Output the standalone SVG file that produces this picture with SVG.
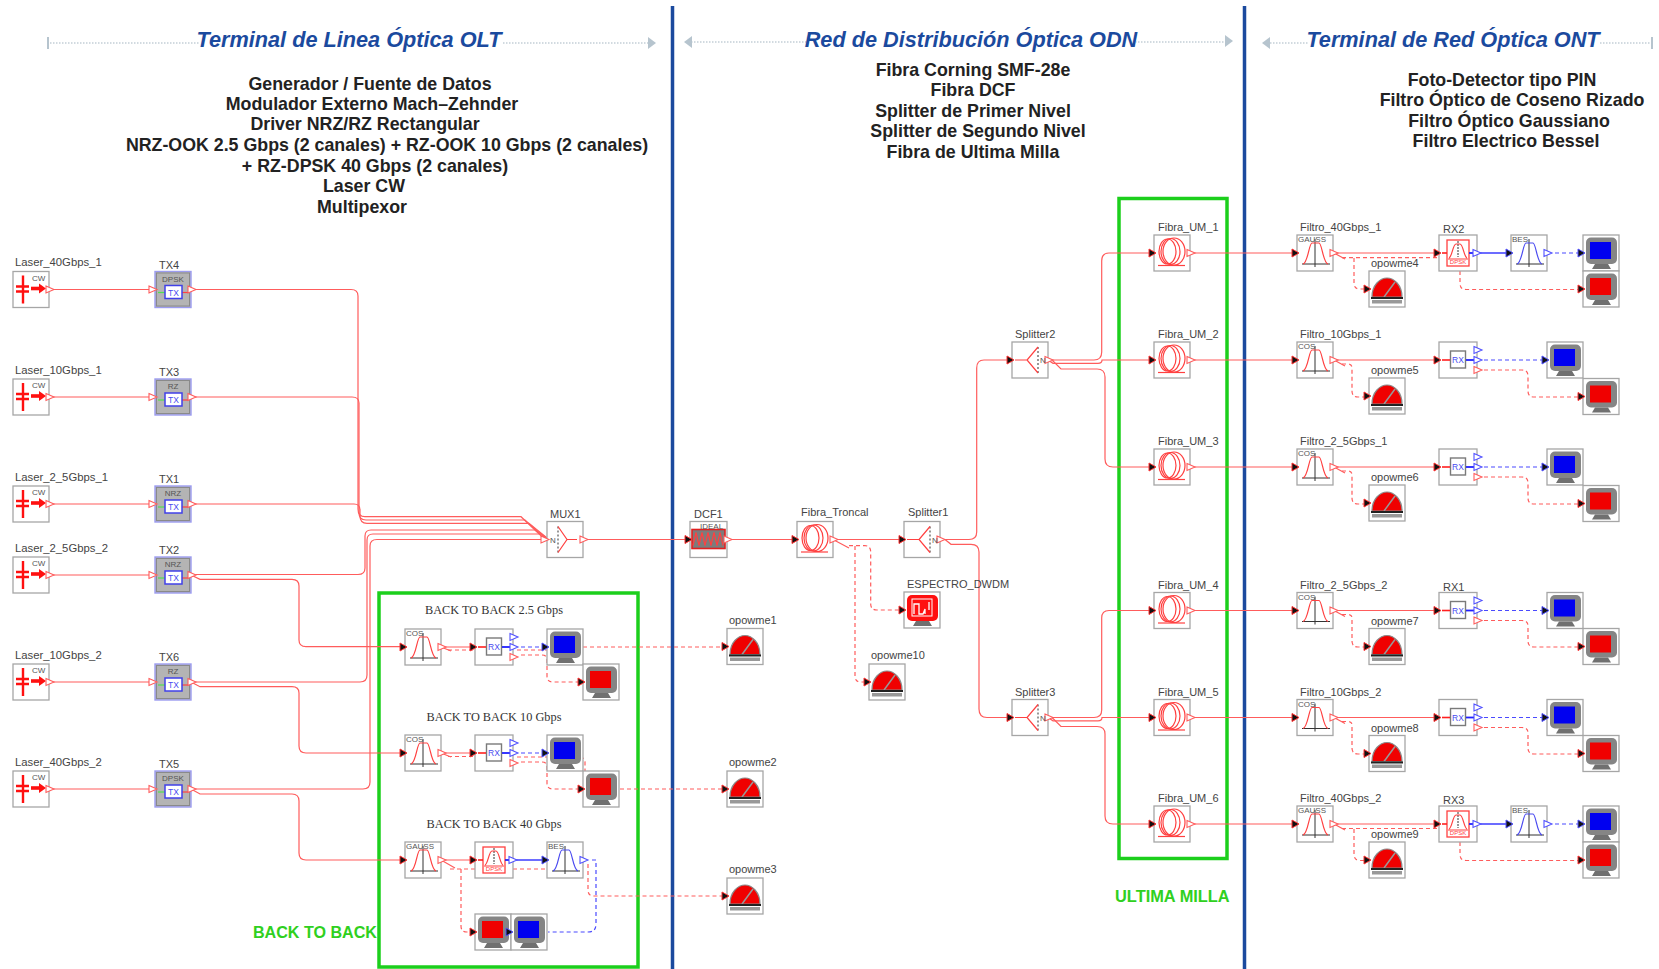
<svg xmlns="http://www.w3.org/2000/svg" width="1659" height="969" viewBox="0 0 1659 969">
<style>
text{font-family:"Liberation Sans",Arial,sans-serif}
.l{font-size:11px;fill:#444}
g[id^=laser] .l{font-size:11.3px}
.s{font-size:8px;fill:#555}
.tb{font-size:8.5px;fill:#4a4af0;text-anchor:middle}
.rs{font-size:6px;fill:#ff4040;text-anchor:middle}
.h{font-size:21.7px;font-weight:bold;font-style:italic;fill:#1b4a9e;text-anchor:middle}
.p{font-size:17.8px;font-weight:bold;fill:#222;text-anchor:middle}
.g{font-weight:bold;fill:#2fd020}
.bb{font-family:"Liberation Serif",serif;font-size:12.3px;fill:#333;text-anchor:middle}
.w,.d,.b,.bd{fill:none;stroke-width:1.2}
.w{stroke:#ff5c5c}
.d{stroke:#ff5c5c;stroke-dasharray:4 3}
.b{stroke:#3c3cff;stroke-width:1.4}
.bd{stroke:#4a4aff;stroke-dasharray:4 3}
.box{fill:#fff;stroke:#a6a6a6;stroke-width:1.3}
.ic{fill:none;stroke:#ff4040;stroke-width:1.2}
.ib{fill:none;stroke:#4a4af0;stroke-width:1.2}
.ax{fill:none;stroke:#333;stroke-width:1}
.sep{fill:none;stroke:#1b4a9e;stroke-width:3.5}
.gb{fill:none;stroke:#1ccf1c;stroke-width:3.5}
.hd{fill:none;stroke:#c3ced6;stroke-width:1.6;stroke-dasharray:1.5 1.5}
.ha{fill:#b6c4ce}
</style>
<defs>
<path id="po" d="M0,-3.5 L8,0 L0,3.5z" fill="#fff" stroke="#ff5c5c" stroke-width="1.1"/>
<path id="pb" d="M0,-3.5 L8,0 L0,3.5z" fill="#fff" stroke="#5050ff" stroke-width="1.1"/>
<path id="pi" d="M-5,-4 L2,0 L-5,4z" fill="#111" stroke="#ff3030" stroke-width="1"/>
<path id="pk" d="M-5,-4 L2,0 L-5,4z" fill="#111" stroke="#5050ff" stroke-width="1"/>
<path id="ph" d="M-8,-3.5 L0,0 L-8,3.5z" fill="#fff" stroke="#ff5c5c" stroke-width="1.1"/>
<g id="laser"><rect class="box" width="36" height="36"/><path d="M10,4V32M3,15H16M3,20H16" stroke="#ff1010" stroke-width="2.4" fill="none"/><path d="M18,17H27" stroke="#ff1010" stroke-width="3.6"/><path d="M26,12L33,17L26,22z" fill="#ff1010"/><use href="#po" x="33" y="18"/></g>
<g id="tx"><rect x="0" y="0" width="36" height="36" fill="#b4b4b4" stroke="#9c9cf0" stroke-width="1.4"/><rect x="1.500" y="1.500" width="33" height="33" fill="none" stroke="#8a8a8a"/><path d="M3,21H10" stroke="#50e050" stroke-width="1.2"/><path d="M27,21H34" stroke="#ff4040" stroke-width="1.2"/><rect x="10" y="14" width="17" height="13" fill="#fff" stroke="#4040e8" stroke-width="1.5"/><use href="#po" x="33" y="18"/><use href="#ph" x="2" y="18"/></g>
<g id="mux"><rect class="box" width="36" height="36"/><path class="ax" d="M11,5V31" stroke-dasharray="2 2" stroke="#777"/><path class="ic" stroke-width="1.4" d="M11,5L20,18L11,31M20,18H30"/><use href="#ph" x="2" y="18"/><use href="#po" x="33" y="18"/></g>
<g id="spl"><rect class="box" width="36" height="36"/><path class="ax" d="M26,5V31" stroke-dasharray="2 2" stroke="#777"/><path class="ic" stroke-width="1.4" d="M26,5L15,18L26,31M15,18H3"/><use href="#pi" x="0" y="18"/><use href="#po" x="33" y="18"/></g>
<g id="fib"><rect class="box" width="36" height="36"/><ellipse class="ic" cx="13.500" cy="16.500" rx="8.500" ry="12.500"/><ellipse class="ic" cx="16.500" cy="16.500" rx="9.500" ry="13"/><ellipse class="ic" cx="20" cy="16.500" rx="11" ry="13.500"/><path class="ic" d="M4,30.500H31"/><use href="#pi" x="0" y="18"/><use href="#po" x="33" y="18"/></g>
<g id="dcf"><rect class="box" width="37" height="36"/><rect x="2" y="8" width="33" height="19" fill="#7c7c7c" stroke="#e02020" stroke-width="1.6"/><path class="ic" stroke-width="1.4" d="M3,24L6,11L9,24L12,11L15,24L18,11L21,24L24,11L27,24L30,11L33,24"/><use href="#pi" x="0" y="18"/><use href="#po" x="34" y="18"/></g>
<g id="flt"><rect class="box" width="36" height="36"/><path class="ax" d="M18,4V32M5,29H33"/><path class="ic" d="M6,29C11,28 12,8 15,8H22C25,8 26,28 31,29"/><use href="#pi" x="0" y="18"/><use href="#po" x="33" y="18"/></g>
<g id="bes"><rect class="box" width="36" height="36"/><path class="ax" d="M18,4V32M5,29H33"/><path class="ib" d="M6,29C11,28 12,8 15,8H22C25,8 26,28 31,29"/><use href="#pk" x="0" y="18"/><use href="#pb" x="33" y="18"/></g>
<g id="rx"><rect class="box" width="38" height="36"/><rect x="11.500" y="9" width="15" height="17" fill="#fff" stroke="#7a7a7a" stroke-width="1.4"/><path d="M3,18H11" stroke="#ff2020" stroke-width="1.6"/><path d="M27,18H36" stroke="#2020ff" stroke-width="1.8"/><use href="#pi" x="0" y="18"/><use href="#pb" x="35" y="8"/><use href="#pb" x="35" y="18"/><use href="#po" x="35" y="28"/></g>
<g id="rd"><rect class="box" width="38" height="36"/><rect x="8" y="5" width="22" height="26" fill="#fff" stroke="#ff4040" stroke-width="1.3"/><path class="ax" d="M19,6V22" stroke-dasharray="2 1"/><path class="ic" d="M10,23C13,22 14,9 17,9H21C24,9 25,22 28,23M9,24H29"/><path d="M3,18H8" stroke="#ff2020" stroke-width="1.6"/><path d="M30,18H36" stroke="#2020ff" stroke-width="1.8"/><use href="#pi" x="0" y="18"/><use href="#pb" x="34" y="18"/></g>
<g id="scr"><rect x="3" y="2.500" width="31" height="26.500" rx="5" fill="#858585"/><path d="M12,29H25L28,34H9z" fill="#707070"/></g>
<g id="mb"><rect class="box" width="36" height="36"/><use href="#scr"/><rect x="7" y="7" width="21" height="17" fill="#0000f0"/><use href="#pk" x="0" y="18"/></g>
<g id="mr"><rect class="box" width="36" height="36"/><use href="#scr"/><rect x="7" y="7" width="21" height="17" fill="#f00000"/><use href="#pi" x="0" y="18"/></g>
<g id="mt"><rect class="box" width="36" height="36"/><path d="M3,26C3,14 11,7 18,7C25,7 33,14 33,26z" fill="#f00000" stroke="#8a8a8a" stroke-width="1.2"/><path d="M15,26L26,11" stroke="#999" stroke-width="1.5"/><rect x="2" y="26" width="32" height="2" fill="#222"/><rect x="3" y="29" width="30" height="3.500" fill="#999"/><use href="#pi" x="0" y="18"/></g>
<g id="esp"><rect class="box" width="36" height="36"/><path d="M12,29H25L28,34H9z" fill="#707070"/><rect x="3" y="3" width="31" height="26" rx="5" fill="#ff1010"/><rect x="8" y="7" width="20" height="17" fill="none" stroke="#fff"/><path d="M10,22V12H15V22H19L21,17V22M25,10V18" fill="none" stroke="#fff" stroke-width="1.3"/><use href="#pi" x="0" y="18"/></g>
</defs>

<g id="frames">
<path class="sep" d="M672.500,6V969M1244.500,6V969"/>
<rect class="gb" x="379" y="593" width="259" height="374"/>
<rect class="gb" x="1119" y="198.500" width="108" height="660"/>
</g>

<g id="titles">
<path class="hd" d="M47,43H655"/><rect class="ha" x="47" y="37" width="2" height="12"/><path class="ha" d="M648,37L656,43L648,49z"/>
<path class="hd" d="M688,42H1231"/><path class="ha" d="M692,36L684,42L692,48z"/><path class="ha" d="M1225,35L1233,41L1225,47z"/>
<path class="hd" d="M1264,43H1650"/><path class="ha" d="M1270,37L1262,43L1270,49z"/><rect class="ha" x="1651" y="37" width="2" height="12"/>
<rect x="199" y="30" width="304" height="26" fill="#fff"/><rect x="807" y="28" width="329" height="26" fill="#fff"/><rect x="1308" y="28" width="291" height="26" fill="#fff"/>
<text class="h" x="349" y="47">Terminal de Linea Óptica OLT</text>
<text class="h" x="971" y="47">Red de Distribución Óptica ODN</text>
<text class="h" x="1453" y="47">Terminal de Red Óptica ONT</text>
<text class="p" x="370" y="90">Generador / Fuente de Datos</text>
<text class="p" x="372" y="110">Modulador Externo Mach–Zehnder</text>
<text class="p" x="365" y="130">Driver NRZ/RZ Rectangular</text>
<text class="p" x="387" y="151">NRZ-OOK 2.5 Gbps (2 canales) + RZ-OOK 10 Gbps (2 canales)</text>
<text class="p" x="375" y="171.500">+ RZ-DPSK 40 Gbps (2 canales)</text>
<text class="p" x="364" y="192">Laser CW</text>
<text class="p" x="362" y="212.500">Multipexor</text>
<text class="p" x="973" y="76">Fibra Corning SMF-28e</text>
<text class="p" x="973" y="96">Fibra DCF</text>
<text class="p" x="973" y="117">Splitter de Primer Nivel</text>
<text class="p" x="978" y="137">Splitter de Segundo Nivel</text>
<text class="p" x="973" y="157.500">Fibra de Ultima Milla</text>
<text class="p" x="1502" y="85.500">Foto-Detector tipo PIN</text>
<text class="p" x="1512" y="106">Filtro Óptico de Coseno Rizado</text>
<text class="p" x="1509" y="127">Filtro Óptico Gaussiano</text>
<text class="p" x="1506" y="147">Filtro Electrico Bessel</text>
<text class="g" font-size="16.100" x="253" y="938">BACK TO BACK</text>
<text class="g" font-size="16.400" x="1115" y="902">ULTIMA MILLA</text>
<text class="bb" x="494" y="614">BACK TO BACK 2.5 Gbps</text>
<text class="bb" x="494" y="721">BACK TO BACK 10 Gbps</text>
<text class="bb" x="494" y="828">BACK TO BACK 40 Gbps</text>
</g>

<g id="connectors">
<path class="w" d="M49,289.500H155M49,397H155M49,504H155M49,575H155M49,682H155M49,789H155"/>
<path class="w" d="M191,289.500H351Q358,289.500 358,296V509Q358,516.700 365,516.700H521L545,539.500"/>
<path class="w" d="M191,397H352Q359,397 359,403V513Q359,520 366,520H525L547,539.500"/>
<path class="w" d="M191,504H354Q360,504 360,510V516Q360,523.300 367,523.300H529L549,539.500"/>
<path class="w" d="M191,574.500H358Q365,574.500 365,568V536Q365,530 371,530H535L549,539.500"/>
<path class="w" d="M191,682H360Q367,682 367,675V540Q367,534 373,534H541L549,539.500"/>
<path class="w" d="M191,789H363Q370,789 370,782V546Q370,539.500 377,539.500H549"/>
<path class="w" d="M191,575L200,579.300H292Q299,579.300 299,586V640Q299,646.700 306,646.700H405"/>
<path class="w" d="M191,682L200,686.700H292Q299,686.700 299,693V746Q299,753 306,753H405"/>
<path class="w" d="M191,789L200,794H292Q299,794 299,801V853Q299,860 306,860H405"/>
<path class="w" d="M583,539.500H690M727,539.500H797M833,539.500H904"/>
<path class="w" d="M940,539.500H969Q976.700,539.500 976.700,532V368Q976.700,360 984,360H1012"/>
<path class="w" d="M945,539.500L951,544.300H971Q979,544.300 979,552V709Q979,717.500 987,717.500H1012"/>
<path class="w" d="M1048,360H1094Q1101.700,360 1101.700,352V261Q1101.700,253 1109,253H1154"/>
<path class="w" d="M1048,360L1053,363.300H1098Q1102,363.300 1102,360H1154"/>
<path class="w" d="M1052,360L1061,369H1097Q1105,369 1105,377V459Q1105,467 1113,467H1154"/>
<path class="w" d="M1048,717.500H1094Q1101.700,717.500 1101.700,710V618Q1101.700,610.500 1109,610.500H1154"/>
<path class="w" d="M1048,717.500L1053,720.800H1098Q1102,720.800 1102,717.500H1154"/>
<path class="w" d="M1052,717.500L1061,726.500H1097Q1105,726.500 1105,734V816Q1105,824 1113,824H1154"/>
<path class="w" d="M1190,253H1297M1190,360H1297M1190,467H1297M1190,610.500H1297M1190,717.500H1297M1190,824H1297"/>
<path class="w" d="M1334,253H1439M1334,360H1439M1334,467H1439M1334,610.500H1439M1334,717.500H1439M1334,824H1439"/>
<path class="w" d="M441,647H475M441,753H475M441,860H475"/>
<path class="w" d="M833,539.500L849,548M1334,253L1345,259M1334,360L1345,366M1334,467L1345,473M1334,610.500L1345,616.500M1334,717.500L1345,723.500M1334,824L1345,830M441,647L451,651M441,753L451,757M441,860L455,868"/>
<path class="d" d="M849,545.700H865Q870.700,545.700 870.700,552V604Q870.700,610 877,610H904"/>
<path class="d" d="M855,546V676Q855,682 861,682H869"/>
<path class="d" d="M1342,257.700H1437M1342,364H1348Q1352,364 1352,368V391Q1352,397 1358,397H1369"/>
<path class="d" d="M1354,258V283Q1354,289 1360,289H1369"/>
<path class="d" d="M1342,471H1348Q1352,471 1352,475V498Q1352,504 1358,504H1369"/>
<path class="d" d="M1342,614.500H1348Q1352,614.500 1352,618V641Q1352,647 1358,647H1369"/>
<path class="d" d="M1342,721.500H1348Q1352,721.500 1352,725V748Q1352,754 1358,754H1369"/>
<path class="d" d="M1342,828.500H1437M1354,829V854Q1354,860.500 1360,860.500H1369"/>
<path class="d" d="M1460,271V283Q1460,289.500 1466,289.500H1583"/>
<path class="d" d="M1460,842V854Q1460,860.500 1466,860.500H1583"/>
<path class="b" d="M1476,253H1511M1476,824H1511"/>
<path class="bd" d="M1555,253H1583M1555,824H1583"/>
<path class="bd" d="M1484,360H1547M1484,467H1547M1484,610.500H1547M1484,717.500H1547"/>
<path class="d" d="M1484,370H1522Q1528,370 1528,376V391Q1528,397 1534,397H1583"/>
<path class="d" d="M1484,477H1522Q1528,477 1528,483V498Q1528,504 1534,504H1583"/>
<path class="d" d="M1484,620.500H1522Q1528,620.500 1528,626V641Q1528,647 1534,647H1583"/>
<path class="d" d="M1484,727.500H1522Q1528,727.500 1528,733V748Q1528,754 1534,754H1583"/>
<path class="d" d="M448,650H475M448,756.500H475"/>
<path class="bd" d="M521,647H547M521,753H547"/>
<path class="d" d="M517,650H547M521,655H542Q547,655 547,660V676Q547,682 553,682H583M583,647H727"/>
<path class="d" d="M517,757H578Q585,757 585,762V771M521,762H542Q547,762 547,767V783Q547,789 553,789H583M620,789H727"/>
<path class="d" d="M450,869H475M513,869H547"/>
<path class="d" d="M461,869V926Q461,932 467,932H475"/>
<path class="b" d="M513,860H547"/>
<path class="bd" d="M592,860H596V924Q596,932 588,932H548"/>
<path class="d" d="M588,864V890Q588,896 594,896H727"/>
</g>

<g id="laser-40-1" transform="translate(13,271.500)"><use href="#laser"/><text class="l" x="2" y="-5.500">Laser_40Gbps_1</text><text class="s" x="19" y="9">CW</text></g>
<g id="laser-10-1" transform="translate(13,379)"><use href="#laser"/><text class="l" x="2" y="-5.500">Laser_10Gbps_1</text><text class="s" x="19" y="9">CW</text></g>
<g id="laser-25-1" transform="translate(13,486)"><use href="#laser"/><text class="l" x="2" y="-5.500">Laser_2_5Gbps_1</text><text class="s" x="19" y="9">CW</text></g>
<g id="laser-25-2" transform="translate(13,557)"><use href="#laser"/><text class="l" x="2" y="-5.500">Laser_2_5Gbps_2</text><text class="s" x="19" y="9">CW</text></g>
<g id="laser-10-2" transform="translate(13,664)"><use href="#laser"/><text class="l" x="2" y="-5.500">Laser_10Gbps_2</text><text class="s" x="19" y="9">CW</text></g>
<g id="laser-40-2" transform="translate(13,771)"><use href="#laser"/><text class="l" x="2" y="-5.500">Laser_40Gbps_2</text><text class="s" x="19" y="9">CW</text></g>

<g id="tx4" transform="translate(155,271.500)"><use href="#tx"/><text class="l" x="4" y="-3">TX4</text><text class="s" x="18" y="10" text-anchor="middle">DPSK</text><text class="tb" x="18.500" y="24">TX</text></g>
<g id="tx3" transform="translate(155,379)"><use href="#tx"/><text class="l" x="4" y="-3">TX3</text><text class="s" x="18" y="10" text-anchor="middle">RZ</text><text class="tb" x="18.500" y="24">TX</text></g>
<g id="tx1" transform="translate(155,486)"><use href="#tx"/><text class="l" x="4" y="-3">TX1</text><text class="s" x="18" y="10" text-anchor="middle">NRZ</text><text class="tb" x="18.500" y="24">TX</text></g>
<g id="tx2" transform="translate(155,557)"><use href="#tx"/><text class="l" x="4" y="-3">TX2</text><text class="s" x="18" y="10" text-anchor="middle">NRZ</text><text class="tb" x="18.500" y="24">TX</text></g>
<g id="tx6" transform="translate(155,664)"><use href="#tx"/><text class="l" x="4" y="-3">TX6</text><text class="s" x="18" y="10" text-anchor="middle">RZ</text><text class="tb" x="18.500" y="24">TX</text></g>
<g id="tx5" transform="translate(155,771)"><use href="#tx"/><text class="l" x="4" y="-3">TX5</text><text class="s" x="18" y="10" text-anchor="middle">DPSK</text><text class="tb" x="18.500" y="24">TX</text></g>

<g id="mux1" transform="translate(547,521.500)"><use href="#mux"/><text class="l" x="3" y="-4">MUX1</text><text class="s" x="3" y="21">N</text></g>
<g id="dcf1" transform="translate(690,521.500)"><use href="#dcf"/><text class="l" x="4" y="-4">DCF1</text><text class="s" x="10" y="7">IDEAL</text></g>
<g id="fibra-troncal" transform="translate(797,521.500)"><use href="#fib"/><text class="l" x="4" y="-6">Fibra_Troncal</text></g>
<g id="splitter1" transform="translate(904,521.500)"><use href="#spl"/><text class="l" x="4" y="-6">Splitter1</text><text class="s" x="28" y="21">N</text></g>
<g id="espectro" transform="translate(904,592)"><use href="#esp"/><text class="l" x="3" y="-4">ESPECTRO_DWDM</text></g>
<g id="opowme10" transform="translate(869,664)"><use href="#mt"/><text class="l" x="2" y="-5">opowme10</text></g>
<g id="opowme1" transform="translate(727,628.500)"><use href="#mt"/><text class="l" x="2" y="-5">opowme1</text></g>
<g id="opowme2" transform="translate(727,771)"><use href="#mt"/><text class="l" x="2" y="-5">opowme2</text></g>
<g id="opowme3" transform="translate(727,878)"><use href="#mt"/><text class="l" x="2" y="-5">opowme3</text></g>

<g id="b2b-flt1" transform="translate(405,629)"><use href="#flt"/><text class="s" x="1" y="7">COS</text></g>
<g id="b2b-rx1" transform="translate(475,629)"><use href="#rx"/><text class="tb" x="19" y="21">RX</text></g>
<g id="b2b-mb1" transform="translate(547,629)"><use href="#mb"/></g>
<g id="b2b-mr1" transform="translate(583,664)"><use href="#mr"/></g>
<g id="b2b-flt2" transform="translate(405,735)"><use href="#flt"/><text class="s" x="1" y="7">COS</text></g>
<g id="b2b-rx2" transform="translate(475,735)"><use href="#rx"/><text class="tb" x="19" y="21">RX</text></g>
<g id="b2b-mb2" transform="translate(547,735)"><use href="#mb"/></g>
<g id="b2b-mr2" transform="translate(583,771)"><use href="#mr"/></g>
<g id="b2b-flt3" transform="translate(405,842)"><use href="#flt"/><text class="s" x="1" y="7">GAUSS</text></g>
<g id="b2b-rx3" transform="translate(475,842)"><use href="#rd"/><text class="rs" x="19" y="29">DPSK</text></g>
<g id="b2b-bes" transform="translate(547,842)"><use href="#bes"/><text class="s" x="1" y="7">BES</text></g>
<g id="b2b-mr3" transform="translate(475,914)"><use href="#mr"/></g>
<g id="b2b-mb3" transform="translate(511,914)"><use href="#mb"/></g>

<g id="splitter2" transform="translate(1012,342)"><use href="#spl"/><text class="l" x="3" y="-4">Splitter2</text><text class="s" x="28" y="21">N</text></g>
<g id="splitter3" transform="translate(1012,699.500)"><use href="#spl"/><text class="l" x="3" y="-4">Splitter3</text><text class="s" x="28" y="21">N</text></g>
<g id="fibra-um-1" transform="translate(1154,235)"><use href="#fib"/><text class="l" x="4" y="-4">Fibra_UM_1</text></g>
<g id="fibra-um-2" transform="translate(1154,342)"><use href="#fib"/><text class="l" x="4" y="-4">Fibra_UM_2</text></g>
<g id="fibra-um-3" transform="translate(1154,449)"><use href="#fib"/><text class="l" x="4" y="-4">Fibra_UM_3</text></g>
<g id="fibra-um-4" transform="translate(1154,592.500)"><use href="#fib"/><text class="l" x="4" y="-4">Fibra_UM_4</text></g>
<g id="fibra-um-5" transform="translate(1154,699.500)"><use href="#fib"/><text class="l" x="4" y="-4">Fibra_UM_5</text></g>
<g id="fibra-um-6" transform="translate(1154,806)"><use href="#fib"/><text class="l" x="4" y="-4">Fibra_UM_6</text></g>

<g id="filtro-40-1" transform="translate(1297,235)"><use href="#flt"/><text class="l" x="3" y="-4">Filtro_40Gbps_1</text><text class="s" x="1" y="7">GAUSS</text></g>
<g id="filtro-10-1" transform="translate(1297,342)"><use href="#flt"/><text class="l" x="3" y="-4">Filtro_10Gbps_1</text><text class="s" x="1" y="7">COS</text></g>
<g id="filtro-25-1" transform="translate(1297,449)"><use href="#flt"/><text class="l" x="3" y="-4">Filtro_2_5Gbps_1</text><text class="s" x="1" y="7">COS</text></g>
<g id="filtro-25-2" transform="translate(1297,592.500)"><use href="#flt"/><text class="l" x="3" y="-4">Filtro_2_5Gbps_2</text><text class="s" x="1" y="7">COS</text></g>
<g id="filtro-10-2" transform="translate(1297,699.500)"><use href="#flt"/><text class="l" x="3" y="-4">Filtro_10Gbps_2</text><text class="s" x="1" y="7">COS</text></g>
<g id="filtro-40-2" transform="translate(1297,806)"><use href="#flt"/><text class="l" x="3" y="-4">Filtro_40Gbps_2</text><text class="s" x="1" y="7">GAUSS</text></g>

<g id="opowme4" transform="translate(1369,271)"><use href="#mt"/><text class="l" x="2" y="-4">opowme4</text></g>
<g id="opowme5" transform="translate(1369,378)"><use href="#mt"/><text class="l" x="2" y="-4">opowme5</text></g>
<g id="opowme6" transform="translate(1369,485)"><use href="#mt"/><text class="l" x="2" y="-4">opowme6</text></g>
<g id="opowme7" transform="translate(1369,628.500)"><use href="#mt"/><text class="l" x="2" y="-4">opowme7</text></g>
<g id="opowme8" transform="translate(1369,735.500)"><use href="#mt"/><text class="l" x="2" y="-4">opowme8</text></g>
<g id="opowme9" transform="translate(1369,842)"><use href="#mt"/><text class="l" x="2" y="-4">opowme9</text></g>

<g id="rx2" transform="translate(1439,235)"><use href="#rd"/><text class="l" x="4" y="-2">RX2</text><text class="rs" x="19" y="29">DPSK</text></g>
<g id="rx-10-1" transform="translate(1439,342)"><use href="#rx"/><text class="tb" x="19" y="21">RX</text></g>
<g id="rx-25-1" transform="translate(1439,449)"><use href="#rx"/><text class="tb" x="19" y="21">RX</text></g>
<g id="rx1" transform="translate(1439,592.500)"><use href="#rx"/><text class="l" x="4" y="-2">RX1</text><text class="tb" x="19" y="21">RX</text></g>
<g id="rx-10-2" transform="translate(1439,699.500)"><use href="#rx"/><text class="tb" x="19" y="21">RX</text></g>
<g id="rx3" transform="translate(1439,806)"><use href="#rd"/><text class="l" x="4" y="-2">RX3</text><text class="rs" x="19" y="29">DPSK</text></g>

<g id="bes-1" transform="translate(1511,235)"><use href="#bes"/><text class="s" x="1" y="7">BES</text></g>
<g id="bes-2" transform="translate(1511,806)"><use href="#bes"/><text class="s" x="1" y="7">BES</text></g>

<g id="mon-b1" transform="translate(1583,235)"><use href="#mb"/></g>
<g id="mon-r1" transform="translate(1583,271)"><use href="#mr"/></g>
<g id="mon-b2" transform="translate(1547,342)"><use href="#mb"/></g>
<g id="mon-r2" transform="translate(1583,378.500)"><use href="#mr"/></g>
<g id="mon-b3" transform="translate(1547,449)"><use href="#mb"/></g>
<g id="mon-r3" transform="translate(1583,485.500)"><use href="#mr"/></g>
<g id="mon-b4" transform="translate(1547,592.500)"><use href="#mb"/></g>
<g id="mon-r4" transform="translate(1583,628.500)"><use href="#mr"/></g>
<g id="mon-b5" transform="translate(1547,699.500)"><use href="#mb"/></g>
<g id="mon-r5" transform="translate(1583,735.500)"><use href="#mr"/></g>
<g id="mon-b6" transform="translate(1583,806)"><use href="#mb"/></g>
<g id="mon-r6" transform="translate(1583,842)"><use href="#mr"/></g>
</svg>
